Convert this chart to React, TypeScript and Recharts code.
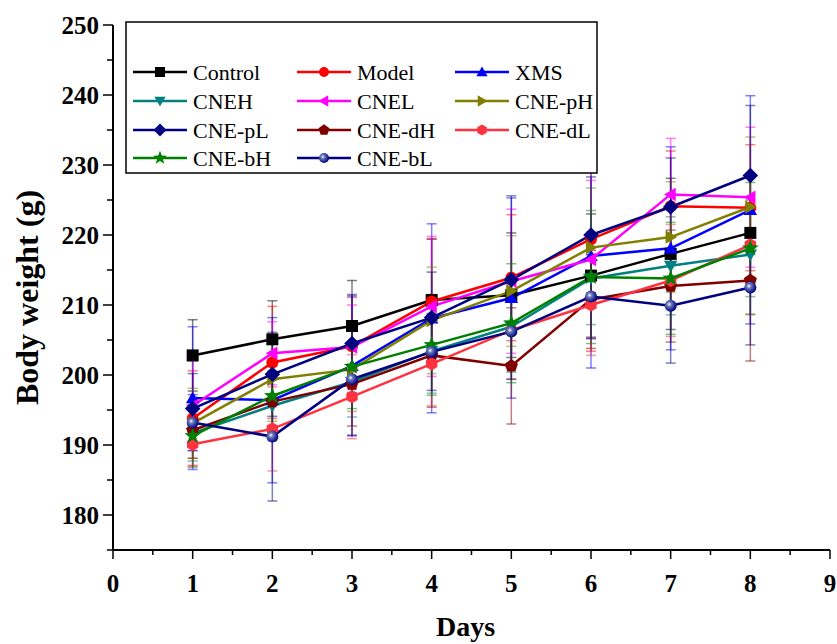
import React from "react";
import { LineChart, Line, XAxis, YAxis, ErrorBar } from "recharts";

const days = [1, 2, 3, 4, 5, 6, 7, 8];

const control = [202.8, 205.1, 207.0, 210.7, 211.4, 214.2, 217.3, 220.3];
const controlErr = [5.1, 5.5, 6.5, 8.7, 8.9, 8.8, 10.8, 8.0];
const model = [193.8, 201.8, 204.1, 210.5, 213.9, 219.4, 224.1, 223.9];
const modelErr = [6.8, 8.0, 7.0, 9.0, 9.0, 16.0, 7.9, 9.0];
const xms = [196.7, 196.4, 201.3, 208.1, 211.0, 217.0, 218.1, 223.6];
const xmsErr = [10.2, 11.8, 10.0, 13.5, 14.3, 16.0, 14.5, 16.3];
const cneh = [191.7, 195.6, 199.0, 203.4, 206.9, 213.8, 215.6, 217.2];
const cnehErr = [4.0, 5.0, 5.0, 6.0, 6.5, 6.6, 7.0, 6.0];
const cnel = [195.6, 203.1, 204.0, 209.8, 213.4, 216.5, 225.8, 225.4];
const cnelErr = [6.4, 4.5, 6.0, 10.0, 10.3, 11.3, 8.0, 10.0];
const cnePH = [193.1, 199.4, 200.8, 207.8, 212.0, 218.2, 219.7, 224.0];
const cnePHErr = [5.0, 6.0, 6.0, 7.6, 7.9, 8.5, 7.9, 10.0];
const cnePL = [195.2, 200.1, 204.5, 208.2, 213.6, 220.0, 224.0, 228.5];
const cnePLErr = [5.0, 6.0, 7.0, 6.5, 12.0, 8.3, 7.0, 10.0];
const cneDH = [192.1, 196.2, 198.7, 202.8, 201.3, 210.8, 212.7, 213.5];
const cneDHErr = [4.0, 5.0, 6.0, 7.4, 8.3, 7.0, 8.0, 11.5];
const cneDL = [190.1, 192.3, 196.9, 201.6, 206.4, 210.0, 213.5, 218.6];
const cneDLErr = [3.0, 6.0, 6.0, 6.0, 7.0, 7.2, 8.0, 10.0];
const cneBH = [191.3, 197.0, 201.2, 204.3, 207.4, 214.0, 213.8, 218.1];
const cneBHErr = [4.5, 5.0, 6.0, 7.2, 8.5, 9.5, 8.0, 9.4];
const cneBL = [193.2, 191.2, 199.4, 203.3, 206.2, 211.2, 209.9, 212.5];
const cneBLErr = [4.0, 9.2, 8.0, 5.5, 6.8, 6.0, 8.2, 8.2];

const xTicks = [0, 0.5, 1, 1.5, 2, 2.5, 3, 3.5, 4, 4.5, 5, 5.5, 6, 6.5, 7, 7.5, 8, 8.5, 9];
const yTicks = [175, 180, 185, 190, 195, 200, 205, 210, 215, 220, 225, 230, 235, 240, 245, 250];

type Shape = "square" | "circle" | "up" | "down" | "left" | "right" | "diamond" | "pentagon" | "hexagon" | "star" | "sphere";

const series: { key: string; name: string; color: string; shape: Shape; values: number[]; errors: number[] }[] = [
  { key: "control", name: "Control", color: "#000000", shape: "square", values: control, errors: controlErr },
  { key: "model", name: "Model", color: "#FF0000", shape: "circle", values: model, errors: modelErr },
  { key: "xms", name: "XMS", color: "#0000FF", shape: "up", values: xms, errors: xmsErr },
  { key: "cneh", name: "CNEH", color: "#008080", shape: "down", values: cneh, errors: cnehErr },
  { key: "cnel", name: "CNEL", color: "#FF00FF", shape: "left", values: cnel, errors: cnelErr },
  { key: "cnePH", name: "CNE-pH", color: "#808000", shape: "right", values: cnePH, errors: cnePHErr },
  { key: "cnePL", name: "CNE-pL", color: "#000080", shape: "diamond", values: cnePL, errors: cnePLErr },
  { key: "cneDH", name: "CNE-dH", color: "#800000", shape: "pentagon", values: cneDH, errors: cneDHErr },
  { key: "cneDL", name: "CNE-dL", color: "#FF3340", shape: "hexagon", values: cneDL, errors: cneDLErr },
  { key: "cneBH", name: "CNE-bH", color: "#008000", shape: "star", values: cneBH, errors: cneBHErr },
  { key: "cneBL", name: "CNE-bL", color: "#000080", shape: "sphere", values: cneBL, errors: cneBLErr },
];

const data = days.map((d, i) => {
  const row: Record<string, number> = { day: d };
  series.forEach((s) => {
    row[s.key] = s.values[i];
    row[s.key + "Err"] = s.errors[i];
  });
  return row;
});

const FONT = '"Liberation Serif", "Times New Roman", serif';

function polyPoints(cx: number, cy: number, r: number, n: number, startDeg: number, inner?: number) {
  const pts: string[] = [];
  const count = inner ? n * 2 : n;
  for (let k = 0; k < count; k++) {
    const a = ((startDeg + (k * 360) / count) * Math.PI) / 180;
    const rr = inner && k % 2 === 1 ? r * inner : r;
    pts.push(`${cx + rr * Math.cos(a)},${cy + rr * Math.sin(a)}`);
  }
  return pts.join(" ");
}

let sphereId = 0;

function Marker({ shape, cx, cy, color, r }: { shape: Shape; cx: number; cy: number; color: string; r: number }) {
  switch (shape) {
    case "square":
      return <rect x={cx - r} y={cy - r} width={2 * r} height={2 * r} fill={color} />;
    case "circle":
      return <circle cx={cx} cy={cy} r={r} fill={color} />;
    case "up":
      return <polygon points={polyPoints(cx, cy + r * 0.2, r * 1.3, 3, -90)} fill={color} />;
    case "down":
      return <polygon points={polyPoints(cx, cy - r * 0.2, r * 1.3, 3, 90)} fill={color} />;
    case "left":
      return <polygon points={polyPoints(cx + r * 0.2, cy, r * 1.3, 3, 180)} fill={color} />;
    case "right":
      return <polygon points={polyPoints(cx - r * 0.2, cy, r * 1.3, 3, 0)} fill={color} />;
    case "diamond":
      return <polygon points={polyPoints(cx, cy, r * 1.3, 4, 0)} fill={color} />;
    case "pentagon":
      return <polygon points={polyPoints(cx, cy, r * 1.15, 5, -90)} fill={color} />;
    case "hexagon":
      return <polygon points={polyPoints(cx, cy, r * 1.1, 6, 30)} fill={color} />;
    case "star":
      return <polygon points={polyPoints(cx, cy, r * 1.45, 5, -90, 0.42)} fill={color} />;
    case "sphere": {
      const id = `sph${sphereId++}`;
      return (
        <g>
          <defs>
            <radialGradient id={id} cx="0.38" cy="0.38" r="0.62">
              <stop offset="0" stopColor="#ffffff" />
              <stop offset="0.3" stopColor="#6a7ab8" />
              <stop offset="1" stopColor={color} />
            </radialGradient>
          </defs>
          <circle cx={cx} cy={cy} r={r} fill={`url(#${id})`} />
        </g>
      );
    }
  }
  return null;
}

const XTick = (props: any) => {
  const { x, y, payload } = props;
  const v = payload.value as number;
  const major = Number.isInteger(v);
  return (
    <g>
      <line x1={x} y1={y} x2={x} y2={y + (major ? 9 : 5)} stroke="#000" strokeWidth={1.5} />
      {major && (
        <text x={x} y={y + 42} textAnchor="middle" fontFamily={FONT} fontWeight="bold" fontSize={25} fill="#000">
          {v}
        </text>
      )}
    </g>
  );
};

const YTick = (props: any) => {
  const { x, y, payload } = props;
  const v = payload.value as number;
  const major = v % 10 === 0;
  return (
    <g>
      <line x1={x} y1={y} x2={x - (major ? 10 : 6)} y2={y} stroke="#000" strokeWidth={1.5} />
      {major && (
        <text x={x - 14} y={y + 9} textAnchor="end" fontFamily={FONT} fontWeight="bold" fontSize={25} fill="#000">
          {v}
        </text>
      )}
    </g>
  );
};

const legendRows = [72, 101, 130, 158];
const legendCols = [133, 297, 455];

function LegendBox() {
  return (
    <svg width={837} height={644} style={{ position: "absolute", left: 0, top: 0, pointerEvents: "none" }}>
      <rect x={126} y={22} width={471} height={151} fill="#fff" stroke="#000" strokeWidth={1.5} />
      {series.map((s, i) => {
        const row = Math.floor(i / 3);
        const col = i % 3;
        const x0 = legendCols[col];
        const y0 = legendRows[row];
        return (
          <g key={s.key}>
            <line x1={x0} y1={y0} x2={x0 + 54} y2={y0} stroke={s.color} strokeWidth={2.5} />
            <Marker shape={s.shape} cx={x0 + 27} cy={y0} color={s.color} r={5} />
            <text x={x0 + 60} y={y0 + 8} fontFamily={FONT} fontSize={22} fill="#000">
              {s.name}
            </text>
          </g>
        );
      })}
    </svg>
  );
}

export default function App() {
  return (
    <div style={{ position: "absolute", left: 0, top: 0, width: 837, height: 644, background: "#fff" }}>
      <LineChart width={837} height={644} data={data} margin={{ top: 25, right: 7, left: 0, bottom: 0 }}>
        <XAxis
          dataKey="day"
          type="number"
          domain={[0, 9]}
          ticks={xTicks}
          interval={0}
          height={94}
          tickSize={0}
          tickMargin={0}
          tickLine={false}
          tick={<XTick />}
          axisLine={{ stroke: "#000", strokeWidth: 2 }}
          label={(p: any) => {
            const vb = p.viewBox;
            return (
              <text x={vb.x + vb.width / 2 - 6} y={vb.y + 86} textAnchor="middle" fontFamily={FONT} fontWeight="bold" fontSize={28} fill="#000">
                Days
              </text>
            );
          }}
        />
        <YAxis
          type="number"
          domain={[175, 250]}
          allowDataOverflow
          ticks={yTicks}
          interval={0}
          width={113}
          tickSize={0}
          tickMargin={0}
          tickLine={false}
          tick={<YTick />}
          axisLine={{ stroke: "#000", strokeWidth: 2 }}
          label={(p: any) => {
            const vb = p.viewBox;
            const cx = 27;
            const cy = vb.y + vb.height / 2 + 10;
            return (
              <text
                x={cx}
                y={cy}
                transform={`rotate(-90 ${cx} ${cy})`}
                textAnchor="middle"
                dominantBaseline="central"
                fontFamily={FONT}
                fontWeight="bold"
                fontSize={32}
                fill="#000"
              >
                Body weight (g)
              </text>
            );
          }}
        />
        {series.map((s) => (
          <Line
            key={s.key}
            dataKey={s.key}
            name={s.name}
            type="linear"
            stroke={s.color}
            strokeWidth={2.5}
            isAnimationActive={false}
            dot={(p: any) => <Marker key={`${s.key}-${p.index}`} shape={s.shape} cx={p.cx} cy={p.cy} color={s.color} r={6} />}
            activeDot={false}
          >
            <ErrorBar
              dataKey={s.key + "Err"}
              direction="y"
              width={5}
              stroke={s.color}
              strokeOpacity={0.5}
              strokeWidth={1.5}
              isAnimationActive={false}
            />
          </Line>
        ))}
      </LineChart>
      <LegendBox />
    </div>
  );
}
